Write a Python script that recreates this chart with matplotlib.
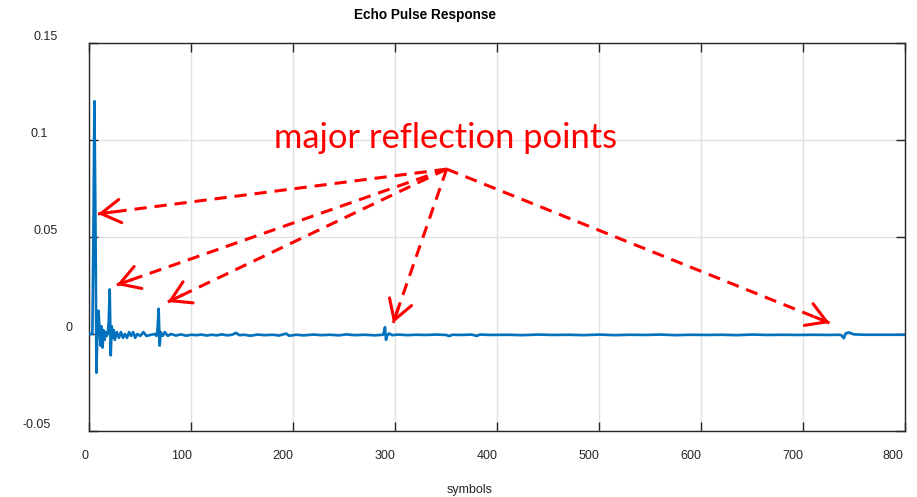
import numpy as np
import matplotlib
matplotlib.use('Agg')
import matplotlib.pyplot as plt
from matplotlib.transforms import ScaledTranslation

# ============================== Data ============================== #
# echo response sampled at symbol positions
symbols = [0, 3, 4, 5, 6, 7, 8, 9, 10, 11, 12, 13, 14, 15, 16, 17, 18, 19,
           20, 21, 22, 23, 24, 25, 27, 29, 31, 33, 35, 37, 39, 41, 43, 45,
           47, 50, 53, 56, 60, 64, 66, 67, 68, 69, 70, 72, 74, 77, 80,
           85, 90, 95, 100, 105, 110, 115, 120, 125, 130, 135, 140, 144,
           147, 152, 158, 165, 172, 180, 186, 193, 196, 203, 210, 220, 228,
           236, 245, 252, 260, 270, 280, 288, 289, 290, 291, 292, 294, 297,
           303, 312, 320, 330, 340, 350, 353, 356, 365, 375, 380, 383, 395,
           410, 425, 440, 455, 470, 485, 500, 515, 530, 545, 560, 575, 590,
           605, 620, 635, 650, 665, 680, 695, 710, 725, 736, 738, 740, 742,
           745, 750, 760, 780, 800]
response = [0.0, 0.0, 0.05, 0.12, 0.06, -0.02, 0.004, 0.012, 0.003, -0.006,
            0.004, -0.007, 0.002, -0.003, 0.001, -0.001, 0.0, 0.006,
            0.023, -0.011, 0.004, -0.002, 0.002, -0.003, 0.001, -0.002,
            0.001, -0.002, 0.0, -0.002, 0.001, -0.001, 0.001, -0.002,
            0.0, -0.001, 0.001, -0.001, -0.0005, 0.0, -0.001, 0.003, 0.013,
            -0.006, 0.001, -0.001, 0.001, -0.001, 0.0,
            -0.0008, -0.0002, -0.0009, -0.0004, -0.0006, -0.0003, -0.0008,
            -0.0004, -0.0007, -0.0002, -0.0007, -0.0004, 0.0006,
            -0.0006, -0.0004, -0.0009, -0.0003, -0.0006, -0.0004, -0.0008,
            0.0002, -0.0009, -0.0004, -0.0007, -0.0003, -0.0006,
            -0.0004, -0.0007, -0.0002, -0.0006, -0.0004, -0.0007, -0.0004,
            0.001, 0.0035, -0.003, -0.001, 0.0003, -0.0006,
            -0.0003, -0.0006, -0.0004, -0.0005, -0.0003, -0.0005, -0.0011,
            -0.0004, -0.0005, -0.0003, -0.001, -0.0003, -0.0005,
            -0.0004, -0.0006, -0.0003, -0.0005, -0.0004, -0.0006, -0.0003,
            -0.0006, -0.0004, -0.0005, -0.0003, -0.0006, -0.0004,
            -0.0005, -0.0004, -0.0006, -0.0003, -0.0005, -0.0004, -0.0005,
            -0.0004, -0.0005, -0.0004, -0.0008, -0.0022, 0.0004,
            0.0008, -0.0002, -0.0004, -0.0004, -0.0004]

x_ticks = [0, 100, 200, 300, 400, 500, 600, 700, 800]
y_ticks = [-0.05, 0, 0.05, 0.1, 0.15]
y_tick_labels = ['-0.05', '0', '0.05', '0.1', '0.15']

# arrows: common start and the reflection points they point at
arrow_start = (350.5, 0.0850)
arrow_tips = [(8.5, 0.0619), (27, 0.0253), (77, 0.0165), (298, 0.0057), (726, 0.0057)]

# ============================== Plot ============================== #
plt.rcParams['font.family'] = ['Liberation Sans', 'DejaVu Sans']

fig = plt.figure(figsize=(9.17, 4.97), dpi=100)
ax = fig.add_axes([0.0974, 0.1328, 0.8895, 0.7807])

ax.plot(symbols, response, color='#0072BD', lw=1.9, zorder=3)

ax.set_xlim(0, 800)
ax.set_ylim(-0.05, 0.15)
ax.set_xticks(x_ticks)
ax.set_xticklabels([str(t) for t in x_ticks])
ax.set_yticks(y_ticks)
ax.set_yticklabels(y_tick_labels)
ax.grid(True, color='#e1e1e1', lw=1.0)
ax.set_axisbelow(True)
ax.tick_params(direction='in', top=True, right=True, length=6.5, width=1,
               color='#262626', labelsize=9, labelcolor='#262626')
ax.tick_params(axis='x', pad=14)
ax.tick_params(axis='y', pad=18)
for s in ax.spines.values():
    s.set_color('#262626')
    s.set_linewidth(1.0)

# tick labels sit slightly off their ticks (pixel shifts)
x_shift = [-4, -10, -10, -10, -10, -10, -10, -10, -12]
y_shift = [-14, 8, -7, -16, -7]
for lab, dx in zip(ax.get_xticklabels(), x_shift):
    lab.set_transform(lab.get_transform() + ScaledTranslation(dx / 100, 0, fig.dpi_scale_trans))
for lab, dx in zip(ax.get_yticklabels(), y_shift):
    lab.set_transform(lab.get_transform() + ScaledTranslation(dx / 100, 7 / 100, fig.dpi_scale_trans))

fig.text(425 / 917, 1 - 15 / 497, 'Echo Pulse Response', ha='center', va='center',
         fontsize=9.8, fontweight='bold', color='black')
fig.text(470 / 917, 1 - 490 / 497, 'symbols', ha='center', va='center',
         fontsize=9, color='#262626')

fig.text(446 / 917, 1 - 148 / 497, 'major reflection points', ha='center',
         va='baseline', fontsize=24.8, color='red', family='Lato')

# dashed shafts with solid open heads
for tip in arrow_tips:
    ax.plot([arrow_start[0], tip[0]], [arrow_start[1], tip[1]], color='red',
            lw=2.2, linestyle=(0, (4, 2.6)), zorder=4, clip_on=False)
    p0 = ax.transData.transform(arrow_start)
    p1 = ax.transData.transform(tip)
    frac = 16 / np.hypot(*(p0 - p1))
    back = (tip[0] + frac * (arrow_start[0] - tip[0]),
            tip[1] + frac * (arrow_start[1] - tip[1]))
    ax.annotate('', xy=tip, xytext=back,
                arrowprops=dict(arrowstyle='->,head_length=1.0,head_width=0.6',
                                color='red', lw=2.2, shrinkA=0, shrinkB=0,
                                mutation_scale=14), zorder=5)

fig.savefig('out.png', dpi=100)
